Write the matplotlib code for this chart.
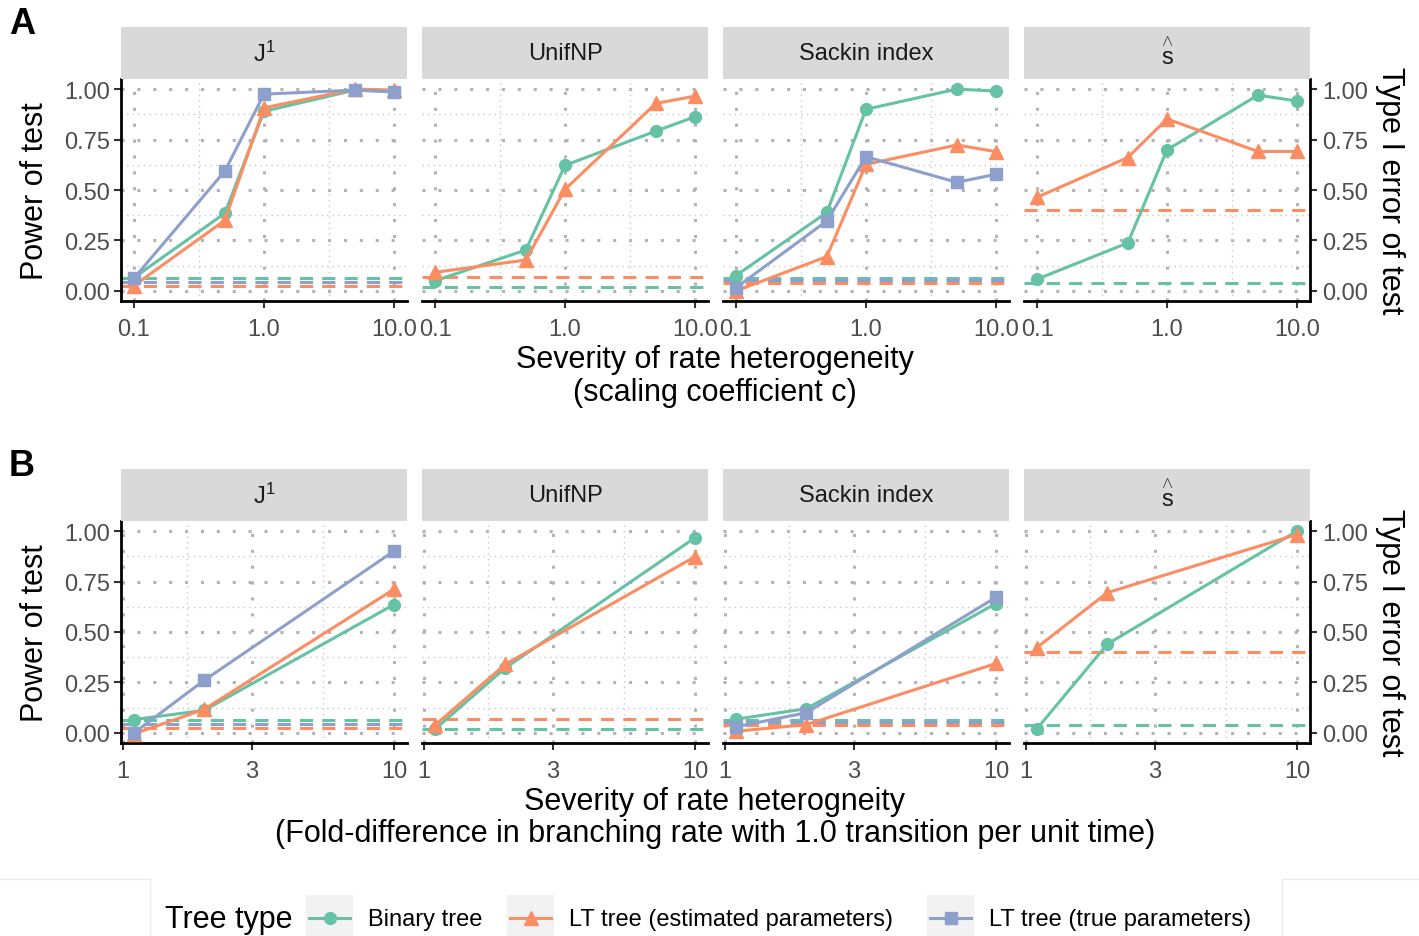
import matplotlib
matplotlib.use("Agg")
import matplotlib.pyplot as plt
from matplotlib.patches import Rectangle

plt.rcParams['font.family'] = ['Liberation Sans', 'DejaVu Sans']
plt.rcParams['mathtext.fontset'] = 'custom'
plt.rcParams['mathtext.rm'] = 'Liberation Sans'
plt.rcParams['mathtext.it'] = 'Liberation Sans:italic'

# ---- data ----
panels = ['J1', 'UnifNP', 'Sackin index', 's_hat']
strip_labels = [r'$\mathregular{J^1}$', 'UnifNP', 'Sackin index',
                r'$\overset{\wedge}{\mathrm{s}}$']
tree_types = ['Binary tree', 'LT tree (estimated parameters)', 'LT tree (true parameters)']

# A: scaling coefficient c
x_a = [0.1, 0.5, 1.0, 5.0, 10.0]
a_j1_binary = [0.066, 0.385, 0.89, 0.995, 0.987]
a_j1_est = [0.026, 0.35, 0.907, 1.0, 0.995]
a_j1_true = [0.063, 0.594, 0.975, 0.995, 0.987]
a_unif_binary = [0.05, 0.203, 0.622, 0.792, 0.863]
a_unif_est = [0.092, 0.153, 0.503, 0.929, 0.965]
a_sackin_binary = [0.076, 0.389, 0.90, 1.0, 0.99]
a_sackin_est = [0.0, 0.17, 0.627, 0.723, 0.69]
a_sackin_true = [0.016, 0.347, 0.665, 0.538, 0.578]
a_shat_binary = [0.058, 0.238, 0.699, 0.97, 0.941]
a_shat_est = [0.464, 0.661, 0.852, 0.691, 0.691]

# B: fold-difference in branching rate
x_b = [1.1, 2.0, 10.0]
b_j1_binary = [0.066, 0.112, 0.636]
b_j1_est = [-0.005, 0.117, 0.712]
b_j1_true = [0.0, 0.261, 0.901]
b_unif_binary = [0.018, 0.322, 0.967]
b_unif_est = [0.038, 0.34, 0.873]
b_sackin_binary = [0.068, 0.12, 0.641]
b_sackin_est = [0.008, 0.041, 0.344]
b_sackin_true = [0.03, 0.10, 0.672]
b_shat_binary = [0.02, 0.44, 1.0]
b_shat_est = [0.423, 0.695, 0.983]

# type I error (dashed lines), same null for both rows
t1_j1 = [0.062, 0.025, 0.042]
t1_unif = [0.02, 0.07, None]
t1_sackin = [0.066, 0.04, 0.052]
t1_shat = [0.04, 0.40, None]

power_a = {
    'J1': [a_j1_binary, a_j1_est, a_j1_true],
    'UnifNP': [a_unif_binary, a_unif_est, None],
    'Sackin index': [a_sackin_binary, a_sackin_est, a_sackin_true],
    's_hat': [a_shat_binary, a_shat_est, None],
}
power_b = {
    'J1': [b_j1_binary, b_j1_est, b_j1_true],
    'UnifNP': [b_unif_binary, b_unif_est, None],
    'Sackin index': [b_sackin_binary, b_sackin_est, b_sackin_true],
    's_hat': [b_shat_binary, b_shat_est, None],
}
type1 = {'J1': t1_j1, 'UnifNP': t1_unif, 'Sackin index': t1_sackin, 's_hat': t1_shat}

colors = ['#66C2A5', '#FC8D62', '#8DA0CB']
markers = ['o', '^', 's']
msizes = [8.5, 10.5, 9]

W, H = 1419, 937
fig = plt.figure(figsize=(W / 100, H / 100), dpi=100)


def fx(px):
    return px / W


def fy(py):
    return 1 - py / H


panel_left = [121, 422, 723, 1024]
panel_w = 286
TICK_COL = '#4D4D4D'


def draw_row(x, power, top, bottom, strip_top, xlim, xticks, xticklabels, minor_x):
    for i, name in enumerate(panels):
        ax = fig.add_axes([fx(panel_left[i]), fy(bottom), panel_w / W, (bottom - top) / H])
        ax.set_xscale('log')
        ax.set_xlim(xlim)
        ax.set_ylim(-0.05, 1.05)
        # grid
        for yv in [0, 0.25, 0.5, 0.75, 1.0]:
            ax.axhline(yv, color='#B3B3B3', lw=2.2, ls=(0, (1, 4.2)), zorder=0)
        for yv in [0.125, 0.375, 0.625, 0.875]:
            ax.axhline(yv, color='#C8C8C8', lw=1.0, ls=(0, (1, 3)), zorder=0)
        for xv in xticks:
            ax.axvline(xv, color='#B3B3B3', lw=2.2, ls=(0, (1, 4.2)), zorder=0)
        for xv in minor_x:
            ax.axvline(xv, color='#C8C8C8', lw=1.0, ls=(0, (1, 3)), zorder=0)
        # type I error
        for k in range(3):
            v = type1[name][k]
            if v is not None:
                ax.axhline(v, color=colors[k], lw=2.2, dashes=(4.3, 3.0), zorder=1)
        # power
        for k in range(3):
            ys = power[name][k]
            if ys is not None:
                ax.plot(x, ys, color=colors[k], lw=2.2, marker=markers[k],
                        ms=msizes[k], zorder=2 + k)
        ax.set_xticks(xticks)
        ax.set_xticklabels(xticklabels)
        ax.xaxis.set_minor_locator(matplotlib.ticker.NullLocator())
        ax.set_yticks([0, 0.25, 0.5, 0.75, 1.0])
        for s in ['top', 'left', 'right']:
            ax.spines[s].set_visible(False)
        ax.spines['bottom'].set_linewidth(2.0)
        ax.tick_params(axis='x', length=5, width=1.5, color='#333333',
                       labelsize=17, labelcolor=TICK_COL, pad=7)
        if i == 0:
            ax.spines['left'].set_visible(True)
            ax.spines['left'].set_linewidth(2.0)
            ax.set_yticklabels(['0.00', '0.25', '0.50', '0.75', '1.00'])
            ax.tick_params(axis='y', length=5, width=1.5, color='#333333',
                           labelsize=17, labelcolor=TICK_COL, pad=3)
        elif i == 3:
            ax.spines['right'].set_visible(True)
            ax.spines['right'].set_linewidth(2.0)
            ax.yaxis.tick_right()
            ax.set_yticklabels(['0.00', '0.25', '0.50', '0.75', '1.00'])
            ax.tick_params(axis='y', length=5, width=1.5, color='#333333',
                           labelsize=17, labelcolor=TICK_COL, pad=4)
        else:
            ax.tick_params(axis='y', length=0, labelleft=False)
        # strip
        sax = fig.add_axes([fx(panel_left[i]), fy(top), panel_w / W, (top - strip_top) / H])
        sax.set_facecolor('#D9D9D9')
        sax.set_xticks([])
        sax.set_yticks([])
        for s in sax.spines.values():
            s.set_visible(False)
        sax.text(0.5, 0.5, strip_labels[i], ha='center', va='center',
                 fontsize=17, color='#1A1A1A', transform=sax.transAxes)


draw_row(x_a, power_a, 80, 302, 28, (10 ** -1.1, 10 ** 1.1),
         [0.1, 1, 10], ['0.1', '1.0', '10.0'], [10 ** -0.5, 10 ** 0.5])
draw_row(x_b, power_b, 522, 744, 470, (0.986, 11.17),
         [1, 3, 10], ['1', '3', '10'], [3 ** 0.5, 30 ** 0.5])

# axis titles
for yc in [191, 633]:
    fig.text(fx(35), fy(yc), 'Power of test', rotation=90, ha='center', va='center', fontsize=22)
    fig.text(fx(1390), fy(yc), 'Type I error of test', rotation=270, ha='center', va='center',
             fontsize=22)

fig.text(fx(715), fy(360), 'Severity of rate heterogeneity', ha='center', va='center', fontsize=22)
fig.text(fx(715), fy(393), '(scaling coefficient c)', ha='center', va='center', fontsize=22)
fig.text(fx(715), fy(802), 'Severity of rate heterogneity', ha='center', va='center', fontsize=22)
fig.text(fx(715), fy(834), '(Fold-difference in branching rate with 1.0 transition per unit time)',
         ha='center', va='center', fontsize=22)

fig.text(fx(22), fy(25), 'A', ha='center', va='center', fontsize=26, fontweight='bold')
fig.text(fx(22), fy(467), 'B', ha='center', va='center', fontsize=26, fontweight='bold')

# legend (drawn in pixel coordinates on an overlay axes)
lax = fig.add_axes([0, 0, 1, 1])
lax.set_xlim(0, W)
lax.set_ylim(H, 0)
lax.axis('off')
lax.plot([0, 150, 150], [880, 880, H], color='#EBEBEB', lw=1)
lax.plot([W, 1282, 1282], [880, 880, H], color='#EBEBEB', lw=1)
lax.text(165, 920, 'Tree type', ha='left', va='center', fontsize=22)
key_x = [306, 507, 927]
for k in range(3):
    lax.add_patch(Rectangle((key_x[k], 896), 47, 45, facecolor='#F2F2F2', edgecolor='none'))
    lax.plot([key_x[k] + 3, key_x[k] + 44], [919, 919], color=colors[k], lw=2.2)
    lax.plot([key_x[k] + 23.5], [919], color=colors[k], marker=markers[k], ms=msizes[k])
    lax.text(key_x[k] + 62, 920, tree_types[k], ha='left', va='center', fontsize=17)

fig.savefig('out.png', dpi=100)
